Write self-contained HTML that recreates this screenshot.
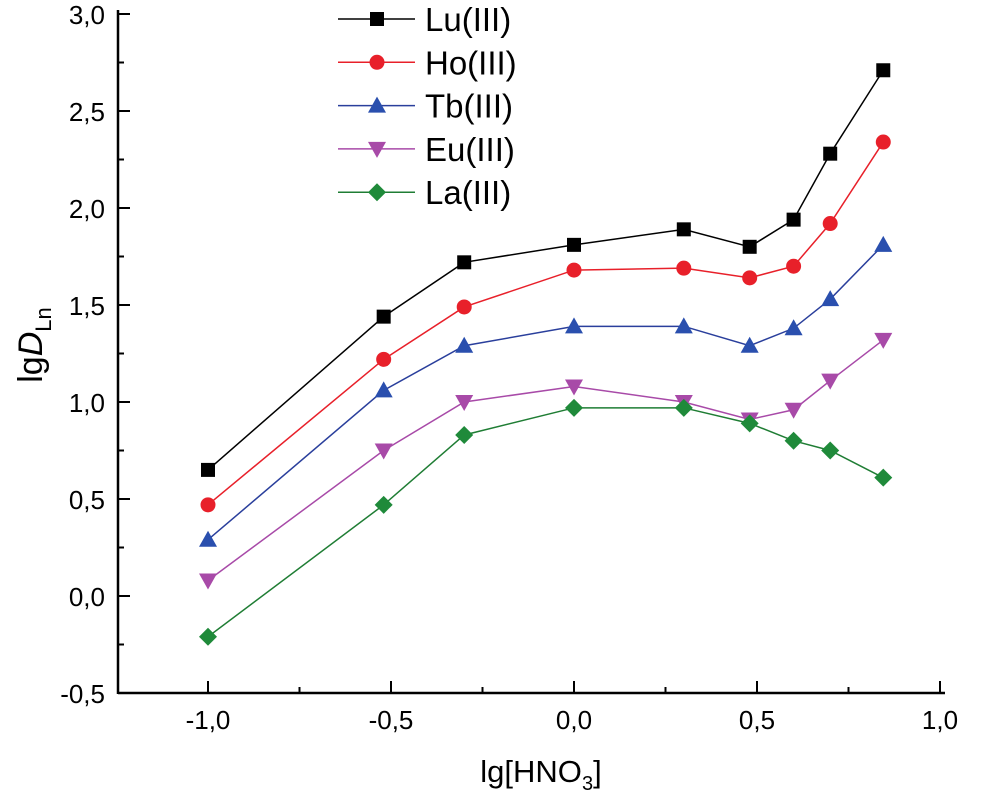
<!DOCTYPE html>
<html><head><meta charset="utf-8"><style>
body{margin:0;background:#fff;}
svg{display:block;font-family:"Liberation Sans",Arial,sans-serif;}
</style></head><body>
<svg id="chart" width="986" height="803" viewBox="0 0 986 803">
<g id="axes"></g><g id="series"></g><g id="legend"></g>
<text x="541" y="782" font-size="31" text-anchor="middle">lg[HNO<tspan font-size="20" dy="8">3</tspan><tspan dy="-8">]</tspan></text>
<text transform="translate(42,345) rotate(-90)" font-size="34" text-anchor="middle">lg<tspan font-style="italic">D</tspan><tspan font-size="22" dy="9">Ln</tspan></text>
</svg>
<script>
const xValues=[-1,-0.52,-0.3,0,0.3,0.48,0.6,0.7,0.845];
const seriesNames=["Lu(III)","Ho(III)","Tb(III)","Eu(III)","La(III)"];
const luValues=[0.65,1.44,1.72,1.81,1.89,1.80,1.94,2.28,2.71];
const hoValues=[0.47,1.22,1.49,1.68,1.69,1.64,1.70,1.92,2.34];
const tbValues=[0.29,1.06,1.29,1.39,1.39,1.29,1.38,1.53,1.81];
const euValues=[0.08,0.75,1.00,1.08,1.00,0.91,0.96,1.11,1.32];
const laValues=[-0.21,0.47,0.83,0.97,0.97,0.89,0.80,0.75,0.61];
const xTicks=[-1,-0.5,0,0.5,1];
const yTicks=[-0.5,0,0.5,1,1.5,2,2.5,3];
const NS="http://www.w3.org/2000/svg";
const X=v=>574+v*366, Y=v=>596-v*194;
function mk(t,a,p){const e=document.createElementNS(NS,t);for(const k in a)e.setAttribute(k,a[k]);p.appendChild(e);return e;}
const ax=document.getElementById('axes');
let e=mk('line',{x1:118,y1:693,x2:945,y2:693,stroke:'#000','stroke-width':2.5},ax);


e=mk('line',{x1:118,y1:10,x2:118,y2:694,stroke:'#000','stroke-width':2.5},ax);


const fmt=v=>v.toFixed(1).replace('.',',');
xTicks.forEach((v,i)=>{
  mk('line',{x1:X(v),y1:693,x2:X(v),y2:681,stroke:'#000','stroke-width':2},ax);
  if(i<xTicks.length-1)mk('line',{x1:X(v+0.25),y1:693,x2:X(v+0.25),y2:687,stroke:'#000','stroke-width':2},ax);
  const t=mk('text',{x:X(v),y:729,'font-size':26,'text-anchor':'middle'},ax);t.textContent=fmt(v);
  
  
});
yTicks.forEach((v,i)=>{
  mk('line',{x1:118,y1:Y(v),x2:130,y2:Y(v),stroke:'#000','stroke-width':2},ax);
  if(i<yTicks.length-1)mk('line',{x1:118,y1:Y(v+0.25),x2:124,y2:Y(v+0.25),stroke:'#000','stroke-width':2},ax);
  const t=mk('text',{x:105,y:Y(v)+10,'font-size':26,'text-anchor':'end'},ax);t.textContent=fmt(v);
  
  
});
const colors=["#000000","#e8202a","#2a3f9c","#a84aa8","#1f7d34"];
const fills=["#000000","#e8202a","#2a4fae","#a84aa8","#1f8a3a"];
const data=[luValues,hoValues,tbValues,euValues,laValues];
const shapes=["square","circle","tri","tridown","diamond"];
function marker(s,x,y,c,p){
  if(s=="square")return mk('rect',{x:x-7,y:y-7,width:14,height:14,fill:c},p);
  if(s=="circle")return mk('circle',{cx:x,cy:y,r:7.5,fill:c},p);
  if(s=="tri")return mk('polygon',{points:`${x},${y-9} ${x+9},${y+7} ${x-9},${y+7}`,fill:c},p);
  if(s=="tridown")return mk('polygon',{points:`${x},${y+9} ${x+9},${y-7} ${x-9},${y-7}`,fill:c},p);
  return mk('polygon',{points:`${x},${y-9} ${x+9},${y} ${x},${y+9} ${x-9},${y}`,fill:c},p);
}
const sg=document.getElementById('series');
data.forEach((vals,si)=>{
  const g=mk('g',{},sg);
  
  
  mk('polyline',{points:vals.map((v,i)=>X(xValues[i])+','+Y(v)).join(' '),fill:'none',stroke:colors[si],'stroke-width':1.5},g);
  vals.forEach((v,i)=>{const m=marker(shapes[si],X(xValues[i]),Y(v),fills[si],g);
    
    });
});
const lg=document.getElementById('legend');
seriesNames.forEach((n,i)=>{
  const y=19+i*43.3;
  const g=mk('g',{},lg);
  
  
  mk('line',{x1:338,y1:y,x2:415,y2:y,stroke:colors[i],'stroke-width':1.5},g);
  marker(shapes[i],377,y,fills[i],g);
  const t=mk('text',{x:425,y:y+12,'font-size':33},g);t.textContent=n;
});
</script>
</body></html>
